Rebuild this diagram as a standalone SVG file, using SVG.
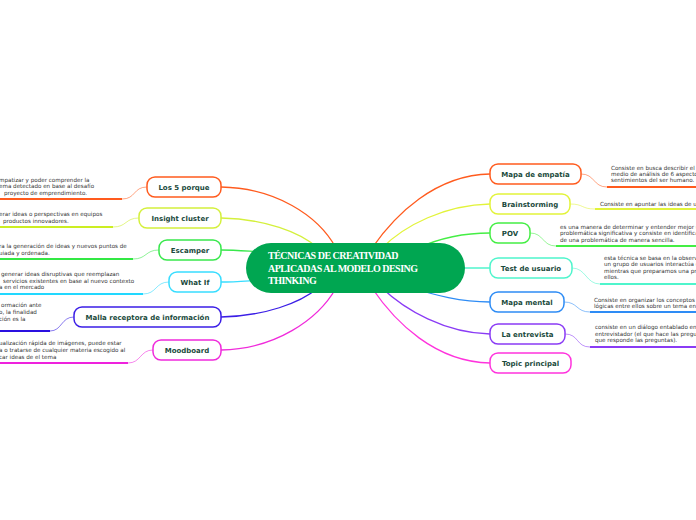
<svg xmlns="http://www.w3.org/2000/svg" width="696" height="520" viewBox="0 0 696 520">
<style>
.node rect{fill:#fff;stroke-width:1.5}
.lbl{font-family:"DejaVu Sans",Verdana,sans-serif;font-weight:bold;font-size:7px;fill:#1a4a3c;text-anchor:middle}
.note{font-family:"DejaVu Sans",Verdana,sans-serif;font-size:5.6px;fill:#333}
.c{fill:none;stroke-width:1.3}
.ul{fill:none;stroke-width:2}
.lk{fill:none;stroke-width:1;opacity:0.55}
.ctr{font-family:"Liberation Serif","Times New Roman",serif;font-weight:bold;font-size:10px;letter-spacing:-0.5px;fill:#fff}
</style>
<rect width="696" height="520" fill="#fff"/>
<g id="connectors">
<path class="c" stroke="#FF5B1E" d="M221,187 C275,188 318,215 336,248"/>
<path class="c" stroke="#D4F03C" d="M221,218 C265,219 300,232 318,248"/>
<path class="c" stroke="#38E84C" d="M221,250 C235,250 245,251 262,252"/>
<path class="c" stroke="#38DDFF" d="M221,282 C235,282 245,281 262,280"/>
<path class="c" stroke="#3B1EE6" d="M221,317 C265,316 300,303 318,288"/>
<path class="c" stroke="#F02ADB" d="M221,350 C275,349 318,320 336,288"/>
<path class="c" stroke="#FF5B1E" d="M490,174 C435,175 395,215 372,248"/>
<path class="c" stroke="#E2F33A" d="M490,204 C445,205 405,225 382,248"/>
<path class="c" stroke="#44EE44" d="M490,233 C465,233 440,238 418,248"/>
<path class="c" stroke="#4FF5CC" d="M490,268 L455,268"/>
<path class="c" stroke="#2E8CF5" d="M490,302 C460,302 435,295 412,288"/>
<path class="c" stroke="#8A3BF5" d="M490,334 C445,333 405,310 382,288"/>
<path class="c" stroke="#FF33DD" d="M490,363 C435,362 395,322 372,288"/>
<path class="ul" stroke="#FF5B1E" d="M-2,199 L122,199"/>
<path class="lk" stroke="#FF5B1E" d="M122,199 C136,199 133,187 147,187"/>
<path class="ul" stroke="#CCEE22" d="M-2,227 L113,227"/>
<path class="lk" stroke="#CCEE22" d="M113,227 C127,227 125,218 139,218"/>
<path class="ul" stroke="#33E844" d="M-2,259 L133,259"/>
<path class="lk" stroke="#33E844" d="M133,259 C147,259 145,250 159,250"/>
<path class="ul" stroke="#22D8FF" d="M-2,294 L143,294"/>
<path class="lk" stroke="#22D8FF" d="M143,294 C157,294 155,282 169,282"/>
<path class="ul" stroke="#2A10E0" d="M-2,331 L50,331"/>
<path class="lk" stroke="#2A10E0" d="M50,331 C62,331 61,317 74,317"/>
<path class="ul" stroke="#EE22DD" d="M-2,363 L128,363"/>
<path class="lk" stroke="#EE22DD" d="M128,363 C141,363 140,350 153,350"/>
<path class="lk" stroke="#FF5B1E" d="M581,174 C595,174 593,187 607,187"/>
<path class="ul" stroke="#FF5B1E" d="M607,187 L698,187"/>
<path class="lk" stroke="#E2F33A" d="M570,204 C584,204 581,209 595,209"/>
<path class="ul" stroke="#E2F33A" d="M595,209 L698,209"/>
<path class="lk" stroke="#44EE44" d="M530,233 C544,233 542,246 556,246"/>
<path class="ul" stroke="#44EE44" d="M556,246 L698,246"/>
<path class="lk" stroke="#4FF5CC" d="M572,268 C586,268 586,284 600,284"/>
<path class="ul" stroke="#4FF5CC" d="M600,284 L698,284"/>
<path class="lk" stroke="#2E8CF5" d="M564,302 C578,302 576,312 590,312"/>
<path class="ul" stroke="#2E8CF5" d="M590,312 L698,312"/>
<path class="lk" stroke="#8A3BF5" d="M565,334 C579,334 576,347 590,347"/>
<path class="ul" stroke="#8A3BF5" d="M590,347 L698,347"/>
</g>
<g id="center">
<rect x="246" y="243" width="219" height="50" rx="25" fill="#00A651"/>
<text class="ctr" x="268" y="259">TÉCNICAS DE CREATIVIDAD</text>
<text class="ctr" x="268" y="271.5">APLICADAS AL MODELO DESING</text>
<text class="ctr" x="268" y="284">THINKING</text>
</g>
<g id="n-los5" class="node"><rect x="147" y="177" width="74" height="20" rx="8" stroke="#FF5B1E"/><text class="lbl" x="184" y="189.5">Los 5 porque</text></g>
<g id="n-insight" class="node"><rect x="139" y="208" width="82" height="20" rx="8" stroke="#D4F03C"/><text class="lbl" x="180" y="220.5">Insight cluster</text></g>
<g id="n-escamper" class="node"><rect x="159" y="240" width="62" height="20" rx="8" stroke="#38E84C"/><text class="lbl" x="190" y="252.5">Escamper</text></g>
<g id="n-whatif" class="node"><rect x="169" y="272" width="52" height="20" rx="8" stroke="#38DDFF"/><text class="lbl" x="195" y="284.5">What If</text></g>
<g id="n-malla" class="node"><rect x="74" y="307" width="147" height="20" rx="8" stroke="#3B1EE6"/><text class="lbl" x="147.5" y="319.5">Malla receptora de información</text></g>
<g id="n-mood" class="node"><rect x="153" y="340" width="68" height="20" rx="8" stroke="#F02ADB"/><text class="lbl" x="187" y="352.5">Moodboard</text></g>
<g id="n-empatia" class="node"><rect x="490" y="164" width="91" height="20" rx="8" stroke="#FF5B1E"/><text class="lbl" x="535.5" y="176.5">Mapa de empatía</text></g>
<g id="n-brain" class="node"><rect x="490" y="194" width="80" height="20" rx="8" stroke="#E2F33A"/><text class="lbl" x="530" y="206.5">Brainstorming</text></g>
<g id="n-pov" class="node"><rect x="490" y="223" width="40" height="20" rx="8" stroke="#44EE44"/><text class="lbl" x="510" y="235.5">POV</text></g>
<g id="n-test" class="node"><rect x="490" y="258" width="82" height="20" rx="8" stroke="#4FF5CC"/><text class="lbl" x="531" y="270.5">Test de usuario</text></g>
<g id="n-mental" class="node"><rect x="490" y="292" width="74" height="20" rx="8" stroke="#2E8CF5"/><text class="lbl" x="527" y="304.5">Mapa mental</text></g>
<g id="n-entrevista" class="node"><rect x="490" y="324" width="75" height="20" rx="8" stroke="#8A3BF5"/><text class="lbl" x="527.5" y="336.5">La entrevista</text></g>
<g id="n-topic" class="node"><rect x="490" y="353" width="81" height="20" rx="8" stroke="#FF33DD"/><text class="lbl" x="530.5" y="365.5">Topic principal</text></g>
<g id="notes">
<text class="note" x="-1" y="182">mpatizar y poder comprender la</text>
<text class="note" x="-1" y="188">ema detectado en base al desafío</text>
<text class="note" x="4" y="195">proyecto de emprendimiento.</text>
<text class="note" x="-1" y="216">erar ideas o perspectivas en equipos</text>
<text class="note" x="3" y="223">productos innovadores.</text>
<text class="note" x="-1" y="248">ra la generación de ideas y nuevos puntos de</text>
<text class="note" x="-1" y="255">uiada y ordenada.</text>
<text class="note" x="1" y="276">generar ideas disruptivas que reemplazan</text>
<text class="note" x="3" y="282.5">servicios existentes en base al nuevo contexto</text>
<text class="note" x="-1" y="289">a en el mercado</text>
<text class="note" x="1" y="307">ormación ante</text>
<text class="note" x="-1" y="313.5">o, la finalidad</text>
<text class="note" x="-1" y="320.5">ción es la</text>
<text class="note" x="-1" y="345">ualización rápida de imágenes, puede estar</text>
<text class="note" x="-1" y="352">a o tratarse de cualquier materia escogido al</text>
<text class="note" x="-1" y="358.5">car ideas de el tema</text>
<text class="note" x="611" y="169.5">Consiste en busca describir el c</text>
<text class="note" x="611" y="176">medio de análisis de 6 aspecto</text>
<text class="note" x="611" y="182">sentimientos del ser humano.</text>
<text class="note" x="600" y="206">Consiste en apuntar las ideas de u</text>
<text class="note" x="560" y="228.5">es una manera de determinar y entender mejor u</text>
<text class="note" x="560" y="235">problemática significativa y consiste en identifica</text>
<text class="note" x="560" y="241.5">de una problemática de manera sencilla.</text>
<text class="note" x="604" y="260">esta técnica se basa en la observ</text>
<text class="note" x="604" y="266">un grupo de usuarios interactúa c</text>
<text class="note" x="604" y="273">mientras que preparamos una pr</text>
<text class="note" x="604" y="279">ellos.</text>
<text class="note" x="594" y="302">Consiste en organizar los conceptos y</text>
<text class="note" x="594" y="307.5">lógicas entre ellos sobre un tema en</text>
<text class="note" x="595" y="329">consiste en un diálogo entablado ent</text>
<text class="note" x="595" y="336">entrevistador (el que hace las pregu</text>
<text class="note" x="595" y="342">que responde las preguntas).</text>
</g>
</svg>
